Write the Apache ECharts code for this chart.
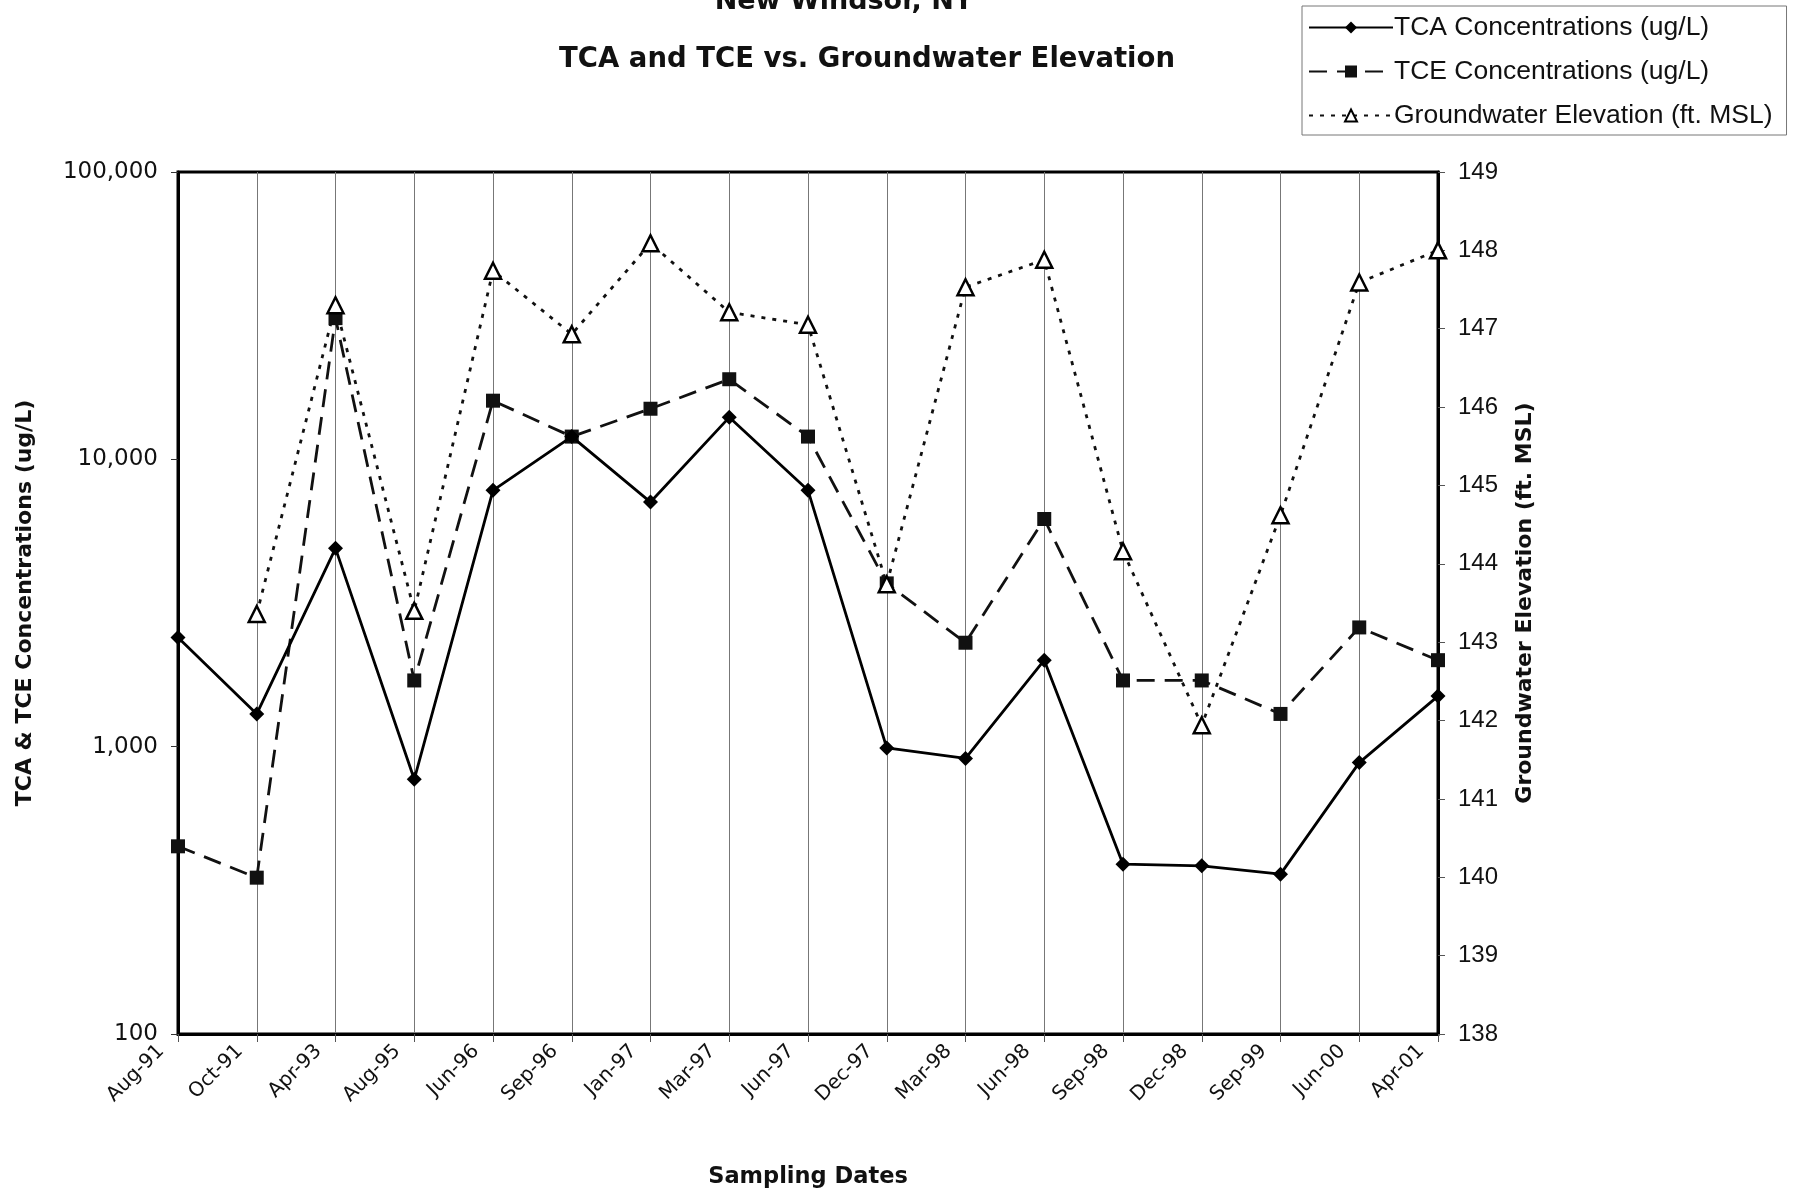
<!DOCTYPE html>
<html>
<head>
<meta charset="utf-8">
<script src="https://cdn.jsdelivr.net/npm/echarts@6/dist/echarts.min.js"></script>
<style>
  html, body { margin: 0; padding: 0; background: #fff; }
  #app { width: 1800px; height: 1195px; }
</style>
</head>
<body>
<div id="app"></div>
<script>
// sampling dates along the x axis
const categories = ["Aug-91", "Oct-91", "Apr-93", "Aug-95", "Jun-96", "Sep-96", "Jan-97", "Mar-97",
  "Jun-97", "Dec-97", "Mar-98", "Jun-98", "Sep-98", "Dec-98", "Sep-99", "Jun-00", "Apr-01"];

// concentrations (ug/L), log axis
const tca = [2400, 1300, 4900, 770, 7800, 12000, 7100, 14000, 7800, 990, 910, 2000, 390, 385, 360, 880, 1500];
const tce = [450, 350, 31000, 1700, 16000, 12000, 15000, 19000, 12000, 3700, 2300, 6200, 1700, 1700, 1300, 2600, 2000];

// groundwater elevation (ft. MSL), right axis - no reading for Aug-91
const gwElev = [null, 143.36, 147.3, 143.4, 147.74, 146.93, 148.09, 147.21, 147.05, 143.74, 147.53, 147.88,
  144.16, 141.94, 144.62, 147.59, 148.0];

const leftTicks = [100, 1000, 10000, 100000];

const chart = echarts.init(document.getElementById("app"));

const sans = "DejaVu Sans";
const arial = "Liberation Sans";

chart.setOption({
  backgroundColor: "#fff",
  animation: false,
  title: [
    {
      text: "New Windsor, NY",
      left: 839,
      top: -17,
      textAlign: "center",
      textStyle: { fontFamily: sans, fontWeight: "bold", fontSize: 27, color: "#111" },
    },
    {
      text: "TCA and TCE vs. Groundwater Elevation",
      left: 862,
      top: 41,
      textAlign: "center",
      textStyle: { fontFamily: sans, fontWeight: "bold", fontSize: 27.5, color: "#111" },
    },
  ],
  legend: {
    orient: "vertical",
    left: 1302,
    top: 6,
    padding: [8, 14, 6, 6],
    itemWidth: 84,
    itemHeight: 15,
    itemGap: 17,
    borderColor: "#777",
    borderWidth: 1,
    textStyle: { fontFamily: arial, fontSize: 26.5, color: "#111", padding: [0, 0, 0, -4] },
    data: ["TCA Concentrations (ug/L)", "TCE Concentrations (ug/L)", "Groundwater Elevation (ft. MSL)"],
  },
  grid: {
    left: 178,
    right: 362,
    top: 172,
    bottom: 161,
    show: true,
    borderColor: "#000",
    borderWidth: 3,
  },
  xAxis: {
    type: "category",
    data: categories,
    boundaryGap: false,
    name: "Sampling Dates",
    nameLocation: "middle",
    nameGap: 132,
    nameTextStyle: { fontFamily: sans, fontWeight: "bold", fontSize: 22.5, color: "#111" },
    axisLine: { lineStyle: { color: "#000", width: 3 } },
    axisTick: { show: true, inside: false, length: 8, lineStyle: { color: "#555", width: 1 } },
    axisLabel: {
      rotate: 45,
      margin: -3,
      padding: [0, 24, 0, 0],
      fontFamily: sans,
      fontSize: 20,
      color: "#111",
    },
    splitLine: { show: true, lineStyle: { color: "#777", width: 1 } },
  },
  yAxis: [
    {
      type: "log",
      logBase: 10,
      min: 100,
      max: 100000,
      name: "TCA & TCE Concentrations (ug/L)",
      nameLocation: "middle",
      nameGap: 142,
      nameTextStyle: { fontFamily: sans, fontWeight: "bold", fontSize: 22, color: "#111" },
      axisLine: { show: true, lineStyle: { color: "#000", width: 3 } },
      axisTick: { show: true, length: 7, lineStyle: { color: "#333", width: 1 } },
      minorTick: { show: false },
      splitLine: { show: false },
      axisLabel: {
        margin: 20,
        fontFamily: sans,
        fontSize: 23,
        color: "#111",
        formatter: (v) => (leftTicks.includes(v) ? v.toLocaleString("en-US") : ""),
      },
    },
    {
      type: "value",
      min: 138,
      max: 149,
      interval: 1,
      position: "right",
      name: "Groundwater Elevation (ft. MSL)",
      nameLocation: "middle",
      nameGap: 76,
      nameTextStyle: { fontFamily: sans, fontWeight: "bold", fontSize: 22, color: "#111" },
      axisLine: { show: true, lineStyle: { color: "#000", width: 3 } },
      axisTick: { show: true, length: 7, lineStyle: { color: "#555", width: 1 } },
      splitLine: { show: false },
      axisLabel: { margin: 20, fontFamily: arial, fontSize: 24, color: "#111" },
    },
  ],
  series: [
    {
      name: "TCA Concentrations (ug/L)",
      type: "line",
      yAxisIndex: 0,
      data: tca,
      symbol: "diamond",
      symbolSize: 15,
      itemStyle: { color: "#000" },
      lineStyle: { color: "#000", width: 2.8, type: "solid" },
      z: 4,
    },
    {
      name: "TCE Concentrations (ug/L)",
      type: "line",
      yAxisIndex: 0,
      data: tce,
      symbol: "rect",
      symbolSize: 14,
      itemStyle: { color: "#111" },
      lineStyle: { color: "#111", width: 2.8, type: [18, 10] },
      z: 3,
    },
    {
      name: "Groundwater Elevation (ft. MSL)",
      type: "line",
      yAxisIndex: 1,
      data: gwElev,
      symbol: "triangle",
      symbolSize: 16,
      itemStyle: { color: "#fff", borderColor: "#000", borderWidth: 2.5 },
      lineStyle: { color: "#111", width: 2.8, type: [4, 7] },
      z: 5,
    },
  ],
});
</script>
</body>
</html>
